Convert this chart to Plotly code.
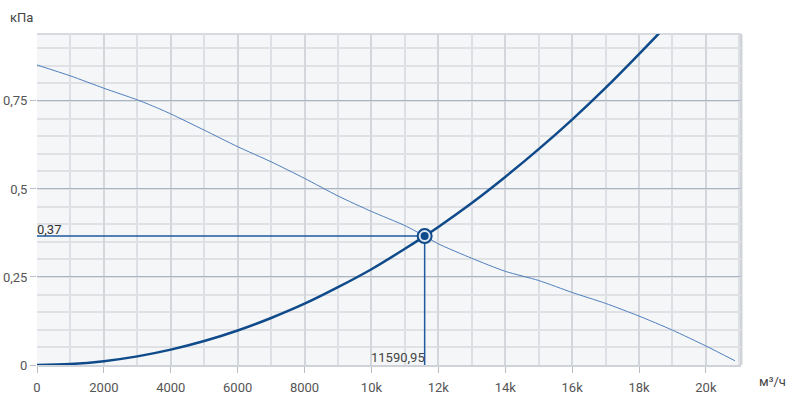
import plotly.graph_objects as go

# Fan curve (flow m3/h, pressure kPa)
fan_q = [0, 1000, 2000, 3000, 3500, 4000, 5000, 6000, 7000, 8000, 9000, 10000,
         11000, 11591, 12000, 13000, 14000, 15000, 16000, 17000, 18000, 19000,
         20000, 20870]
fan_p = [0.852, 0.821, 0.786, 0.753, 0.734, 0.713, 0.667, 0.620, 0.577, 0.530,
         0.480, 0.436, 0.396, 0.366, 0.344, 0.303, 0.266, 0.240, 0.206, 0.175,
         0.139, 0.099, 0.054, 0.012]

# System curve
sys_q = [0, 1000, 2000, 3000, 4000, 5000, 6000, 7000, 8000, 9000, 10000, 11000,
         11591, 12000, 13000, 14000, 15000, 16000, 17000, 18000, 18600]
sys_p = [0, 0.0027, 0.0109, 0.0245, 0.0436, 0.068, 0.098, 0.1335, 0.174, 0.221,
         0.272, 0.330, 0.366, 0.392, 0.460, 0.534, 0.613, 0.697, 0.787, 0.883, 0.942]

# Operating point
op_q = 11590.95
op_p = 0.366
op_q_label = "11590,95"
op_p_label = "0,37"

x_tickvals = [0, 2000, 4000, 6000, 8000, 10000, 12000, 14000, 16000, 18000, 20000]
x_ticktext = ["0", "2000", "4000", "6000", "8000", "10k", "12k", "14k", "16k", "18k", "20k"]
y_tickvals = [0, 0.25, 0.5, 0.75]
y_ticktext = ["0", "0,25", "0,5", "0,75"]

dark = "#0f4a8a"
cross = "#1f5a9e"
light = "#4f7fbd"
font_fam = "Roboto, Arial, sans-serif"

fig = go.Figure()
fig.add_trace(go.Scatter(x=fan_q, y=fan_p, mode="lines",
                         line=dict(color=light, width=1, shape="spline", smoothing=0.6),
                         hoverinfo="skip"))
fig.add_trace(go.Scatter(x=[0, op_q], y=[op_p, op_p], mode="lines",
                         line=dict(color=cross, width=1.5), hoverinfo="skip"))
fig.add_trace(go.Scatter(x=[op_q, op_q], y=[0, op_p], mode="lines",
                         line=dict(color=cross, width=1.5), hoverinfo="skip"))
fig.add_trace(go.Scatter(x=sys_q, y=sys_p, mode="lines",
                         line=dict(color=dark, width=2.5, shape="spline"), hoverinfo="skip"))
fig.add_trace(go.Scatter(x=[op_q], y=[op_p], mode="markers",
                         marker=dict(size=14, color="#dfe7f1", line=dict(color=dark, width=2)),
                         hoverinfo="skip"))
fig.add_trace(go.Scatter(x=[op_q], y=[op_p], mode="markers",
                         marker=dict(size=8, color=dark, line=dict(width=0)),
                         hoverinfo="skip"))

fig.add_annotation(x=0, y=op_p, text=op_p_label, xref="x", yref="y",
                   xanchor="left", yanchor="bottom", showarrow=False, xshift=-2, yshift=-3,
                   font=dict(size=13, color="#333333", family=font_fam))
fig.add_annotation(x=op_q, y=0, text=op_q_label, xref="x", yref="y",
                   xanchor="right", yanchor="bottom", showarrow=False, xshift=2, yshift=-2,
                   font=dict(size=13, color="#444444", family=font_fam))
fig.add_annotation(x=-0.0412, y=1.051, text="кПа", xref="paper", yref="paper",
                   xanchor="left", yanchor="middle", showarrow=False,
                   font=dict(size=13, color="#444444", family=font_fam))
fig.add_annotation(x=1.0227, y=-0.05, text="м³/ч", xref="paper", yref="paper",
                   xanchor="left", yanchor="middle", showarrow=False,
                   font=dict(size=13, color="#444444", family=font_fam))

fig.update_layout(
    width=792, height=399,
    margin=dict(l=37, r=51, t=34, b=34),
    paper_bgcolor="white", plot_bgcolor="#f4f6f8",
    showlegend=False,
    font=dict(family=font_fam, size=13, color="#555555"),
    separators=", ",
)
fig.update_xaxes(range=[0, 21050], tickvals=x_tickvals, ticktext=x_ticktext,
                 automargin=False,
                 showgrid=True, gridcolor="#d3d6db", gridwidth=1.5,
                 minor=dict(dtick=1000, tick0=0, showgrid=True, gridcolor="#dcdfe3", gridwidth=1.5),
                 ticks="outside", ticklen=6, tickcolor="#b8bec6",
                 zeroline=False, showline=True, linecolor="#cfd3d9", linewidth=2,
                 mirror=False, ticklabelstandoff=3,
                 tickfont=dict(size=13, color="#555555"))
fig.update_yaxes(range=[0, 0.94], tickvals=y_tickvals, ticktext=y_ticktext,
                 automargin=False,
                 showgrid=True, gridcolor="#aab4c2", gridwidth=1,
                 minor=dict(dtick=0.05, tick0=0, showgrid=True, gridcolor="#dfe1e4", gridwidth=1.5),
                 ticks="outside", ticklen=6, tickcolor="#b8bec6",
                 zeroline=False, showline=False,
                 tickfont=dict(size=13, color="#555555"))
# top and right borders of the plot area
fig.add_shape(type="line", xref="paper", yref="paper", x0=0, x1=1, y0=1, y1=1,
              line=dict(color="#d6d9dd", width=2), layer="below")
fig.add_shape(type="line", xref="paper", yref="paper", x0=1, x1=1, y0=0, y1=1,
              line=dict(color="#d0d3d8", width=3), layer="below")

fig.write_html("out.html")
